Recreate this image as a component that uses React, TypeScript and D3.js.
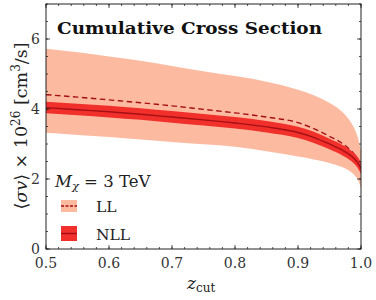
import React from "react";
import * as d3 from "d3";

const zCut = [0.5, 0.55, 0.6, 0.65, 0.7, 0.75, 0.8, 0.85, 0.9, 0.925, 0.95, 0.97, 0.98, 0.99, 0.995, 1.0];
const llCentral = [4.41, 4.34, 4.26, 4.18, 4.09, 3.99, 3.89, 3.77, 3.61, 3.44, 3.22, 3.02, 2.88, 2.69, 2.56, 2.35];
const llUpper = [5.72, 5.62, 5.5, 5.38, 5.23, 5.08, 4.94, 4.78, 4.55, 4.39, 4.17, 3.92, 3.72, 3.42, 3.18, 2.8];
const llLower = [3.32, 3.26, 3.2, 3.13, 3.06, 2.99, 2.92, 2.79, 2.64, 2.56, 2.46, 2.34, 2.25, 2.1, 1.98, 1.74];
const nllCentral = [4.04, 3.98, 3.92, 3.85, 3.77, 3.69, 3.6, 3.49, 3.33, 3.19, 3.0, 2.83, 2.72, 2.57, 2.46, 2.3];
const nllUpper = [4.21, 4.15, 4.09, 4.02, 3.94, 3.86, 3.77, 3.66, 3.49, 3.35, 3.15, 2.98, 2.87, 2.72, 2.62, 2.46];
const nllLower = [3.88, 3.82, 3.76, 3.69, 3.61, 3.53, 3.44, 3.33, 3.17, 3.03, 2.85, 2.68, 2.57, 2.42, 2.31, 2.15];

const xMajor = [0.5, 0.6, 0.7, 0.8, 0.9, 1.0];
const xTickLabels = ["0.5", "0.6", "0.7", "0.8", "0.9", "1.0"];
const yMajor = [0, 2, 4, 6];
const yTickLabels = ["0", "2", "4", "6"];
const legendLabels = ["LL", "NLL"];

const W = 376, H = 300;
const L = 46, R = 361, T = 4, B = 249;
const FONT = "'DejaVu Serif', serif";

const LL_BAND = "#fcbba1";
const NLL_BAND = "#f2302b";
const LINE = "#a50f15";

export default function App() {
  const x = d3.scaleLinear().domain([0.5, 1.0]).range([L, R]);
  const y = d3.scaleLinear().domain([0, 7]).range([B, T]);
  const idx = zCut.map((_, i) => i);
  const area = (up: number[], lo: number[]) =>
    d3.area<number>().x(i => x(zCut[i])).y0(i => y(lo[i])).y1(i => y(up[i])).curve(d3.curveMonotoneX)(idx) || "";
  const line = (v: number[]) =>
    d3.line<number>().x(i => x(zCut[i])).y(i => y(v[i])).curve(d3.curveMonotoneX)(idx) || "";

  const xMinor = d3.range(0.5, 1.0001, 0.02).map(v => +v.toFixed(3));
  const yMinor = d3.range(0, 7.0001, 0.5);

  return (
    <svg width={W} height={H} style={{ position: "absolute", left: 0, top: 0, background: "#fff" }}>
      <defs>
        <clipPath id="plotclip">
          <rect x={L} y={T} width={R - L} height={B - T} />
        </clipPath>
      </defs>
      <g clipPath="url(#plotclip)">
        <path d={area(llUpper, llLower)} fill={LL_BAND} />
        <path d={line(llCentral)} fill="none" stroke={LINE} strokeWidth={1.4} strokeDasharray="5.5,3.5" />
        <path d={area(nllUpper, nllLower)} fill={NLL_BAND} />
        <path d={line(nllCentral)} fill="none" stroke={LINE} strokeWidth={1.4} />
      </g>

      {/* ticks */}
      <g stroke="#222" strokeWidth={0.8}>
        {xMinor.map((v, i) => (
          <g key={"xm" + i}>
            <line x1={x(v)} x2={x(v)} y1={B} y2={B - 2} />
            <line x1={x(v)} x2={x(v)} y1={T} y2={T + 2} />
          </g>
        ))}
        {xMajor.map((v, i) => (
          <g key={"xM" + i}>
            <line x1={x(v)} x2={x(v)} y1={B} y2={B - 4} />
            <line x1={x(v)} x2={x(v)} y1={T} y2={T + 4} />
          </g>
        ))}
        {yMinor.map((v, i) => (
          <g key={"ym" + i}>
            <line x1={L} x2={L + 2} y1={y(v)} y2={y(v)} />
            <line x1={R} x2={R - 2} y1={y(v)} y2={y(v)} />
          </g>
        ))}
        {yMajor.map((v, i) => (
          <g key={"yM" + i}>
            <line x1={L} x2={L + 4} y1={y(v)} y2={y(v)} />
            <line x1={R} x2={R - 4} y1={y(v)} y2={y(v)} />
          </g>
        ))}
      </g>
      <rect x={L} y={T} width={R - L} height={B - T} fill="none" stroke="#222" strokeWidth={1} />

      {/* tick labels */}
      <g fontFamily={FONT} fontSize={14} fill="#333">
        {xMajor.map((v, i) => (
          <text key={"xl" + i} x={x(v)} y={268} textAnchor="middle">{xTickLabels[i]}</text>
        ))}
        {yMajor.map((v, i) => (
          <text key={"yl" + i} x={40} y={y(v) + 5} textAnchor="end">{yTickLabels[i]}</text>
        ))}
      </g>

      {/* title */}
      <text x={57} y={34} fontFamily={FONT} fontWeight="bold" fontSize={16} fill="#111"
        textLength={265} lengthAdjust="spacingAndGlyphs">Cumulative Cross Section</text>

      {/* x label */}
      <text x={187} y={289} fontFamily={FONT} fontSize={17} fill="#222">
        <tspan fontStyle="italic">z</tspan>
        <tspan fontSize={12} dy={3}>cut</tspan>
      </text>

      {/* y label */}
      <text transform={`translate(27, 126) rotate(-90)`} textAnchor="middle" fontFamily={FONT} fontSize={17.5} fill="#222">
        ⟨<tspan fontStyle="italic">σv</tspan>⟩ × 10<tspan fontSize={12} dy={-7}>26</tspan>
        <tspan dy={7}> [cm</tspan><tspan fontSize={12} dy={-7}>3</tspan><tspan dy={7}>/s]</tspan>
      </text>

      {/* legend */}
      <text x={55} y={187} fontFamily={FONT} fontSize={16.5} fill="#222">
        <tspan fontStyle="italic">M</tspan><tspan fontStyle="italic" fontSize={11.5} dy={3}>χ</tspan>
        <tspan dy={-3}> = 3 TeV</tspan>
      </text>
      <rect x={61} y={200} width={16} height={12} fill={LL_BAND} />
      <line x1={61} x2={77} y1={206} y2={206} stroke={LINE} strokeWidth={1.4} strokeDasharray="3,1.5" />
      <text x={96} y={211.5} fontFamily={FONT} fontSize={15.5} fill="#222">{legendLabels[0]}</text>
      <rect x={61} y={226} width={16} height={15} fill={NLL_BAND} />
      <line x1={61} x2={77} y1={233.5} y2={233.5} stroke={LINE} strokeWidth={1.4} />
      <text x={96} y={239.5} fontFamily={FONT} fontSize={15.5} fill="#222">{legendLabels[1]}</text>
    </svg>
  );
}
